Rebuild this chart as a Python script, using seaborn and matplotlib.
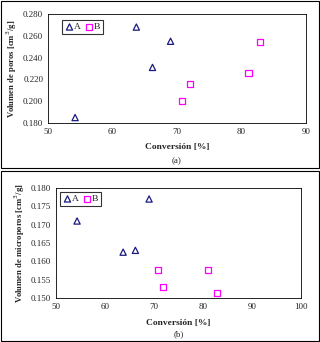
import pandas as pd
import seaborn as sns
import matplotlib.pyplot as plt
from matplotlib.patches import Rectangle

# panel (a) data
conv_a_A = [54.2, 63.7, 66.2, 69.0]
poros_A = [0.185, 0.268, 0.231, 0.255]
conv_a_B = [70.8, 72.0, 81.1, 82.9]
poros_B = [0.200, 0.216, 0.226, 0.254]

# panel (b) data
conv_b_A = [54.3, 63.7, 66.2, 69.0]
micro_A = [0.171, 0.1625, 0.163, 0.177]
conv_b_B = [70.8, 71.9, 81.0, 82.9]
micro_B = [0.1576, 0.1530, 0.1576, 0.1513]

sns.set_style("white")
plt.rcParams['font.family'] = ['Liberation Serif', 'DejaVu Serif']

df_a = pd.DataFrame({
    'conv': conv_a_A + conv_a_B,
    'val': poros_A + poros_B,
    'serie': ['A'] * 4 + ['B'] * 4,
})
df_b = pd.DataFrame({
    'conv': conv_b_A + conv_b_B,
    'val': micro_A + micro_B,
    'serie': ['A'] * 4 + ['B'] * 4,
})

W, H = 320, 342
fig = plt.figure(figsize=(3.2, 3.42), dpi=100)

# outer boxes around each panel
fig.patches.append(Rectangle((1 / W, 1 - 168 / H), 318 / W, 167 / H, transform=fig.transFigure,
                             fill=False, edgecolor='black', linewidth=0.8))
fig.patches.append(Rectangle((1 / W, 1 / H), 318 / W, 170 / H, transform=fig.transFigure,
                             fill=False, edgecolor='black', linewidth=0.8))

ax1 = fig.add_axes([48 / W, 1 - 123 / H, 258 / W, 109 / H])
ax2 = fig.add_axes([56 / W, 1 - 298 / H, 245 / W, 110 / H])

colors = {'A': '#1a1a80', 'B': '#ff00ff'}
markers = {'A': '^', 'B': 's'}


def draw(ax, df, xlim, xticks, ylim, yticks, ylabel, tag, xlab_y, tag_y, leg_xy):
    for s in ['A', 'B']:
        d = df[df.serie == s]
        sns.scatterplot(data=d, x='conv', y='val', ax=ax, marker=markers[s], s=20,
                        facecolors='none', edgecolor=colors[s], linewidth=0.9, label=s)
    ax.set_xlim(*xlim)
    ax.set_ylim(*ylim)
    ax.set_xticks(xticks)
    ax.set_yticks(yticks)
    ax.set_yticklabels(['{:.3f}'.format(v) for v in yticks])
    ax.tick_params(labelsize=6.5, length=2, direction='out', pad=1.5)
    for sp in ax.spines.values():
        sp.set_linewidth(0.6)
        sp.set_color('black')
    ax.set_xlabel('Conversión [%]', fontsize=6.8, fontweight='bold')
    ax.xaxis.set_label_coords(0.5, xlab_y)
    ax.xaxis.label.set_va('center')
    ax.set_ylabel(ylabel, fontsize=6.2, fontweight='bold', labelpad=3)
    ax.text(0.5, tag_y, tag, transform=ax.transAxes, ha='center', va='center', fontsize=6.5)
    leg = ax.legend(loc='upper left', bbox_to_anchor=leg_xy, ncol=2, fontsize=6.8, frameon=True,
                    fancybox=False, handletextpad=0.0, columnspacing=0.3, borderpad=0.3,
                    handlelength=1.0, borderaxespad=0)
    leg.get_frame().set_edgecolor('black')
    leg.get_frame().set_linewidth(0.8)


draw(ax1, df_a, (50, 90), [50, 60, 70, 80, 90], (0.18, 0.28),
     [0.18, 0.2, 0.22, 0.24, 0.26, 0.28], 'Volumen de poros [cm$^3$/g]', '(a)',
     -0.22, -0.35, (0.054, 0.945))
draw(ax2, df_b, (50, 100), [50, 60, 70, 80, 90, 100], (0.15, 0.18),
     [0.15, 0.155, 0.16, 0.165, 0.17, 0.175, 0.18], 'Volumen de microporos [cm$^3$/g]', '(b)',
     -0.227, -0.327, (0.016, 0.964))

fig.savefig('out.png', dpi=100)
